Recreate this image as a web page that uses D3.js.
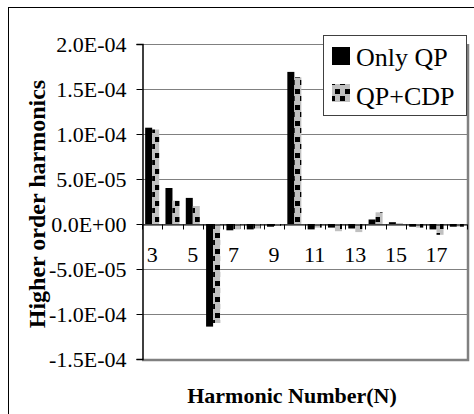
<!DOCTYPE html>
<html>
<head>
<meta charset="utf-8">
<script src="https://cdn.jsdelivr.net/npm/d3@7"></script>
<style>
  body { margin: 0; background: #fff; }
  svg { display: block; }
  svg text { font-family: "Liberation Serif", "Times New Roman", Tinos, Times, serif; }
</style>
</head>
<body>
<div id="chart"></div>
<script>
const harmonics = [3, 4, 5, 6, 7, 8, 9, 10, 11, 12, 13, 14, 15, 16, 17, 18]
const tickLabels = [3, 5, 7, 9, 11, 13, 15, 17]
const seriesNames = ['Only QP', 'QP+CDP']
const onlyQP = [1.07e-4, 4.0e-5, 2.9e-5, -1.14e-4, -7e-6, -6e-6, -3e-6, 1.69e-4, -6e-6, -4e-6, -5e-6, 5e-6, 2e-6, -3e-6, -6e-6, -3e-6]
const qpCDP = [1.05e-4, 2.6e-5, 2.0e-5, -1.10e-4, -6e-6, -5e-6, -2e-6, 1.63e-4, -4e-6, -8e-6, -9e-6, 1.3e-5, 1e-6, -4e-6, -1.2e-5, -3e-6]
const yTicks = [-1.5e-4, -1.0e-4, -5.0e-5, 0, 5.0e-5, 1.0e-4, 1.5e-4, 2.0e-4]

const width = 474
const height = 414
const plot = {left: 142, right: 467, top: 44, bottom: 359}

const fmtE = v => {
    if (v === 0) return '0.0E+00'
    const [m, e] = v.toExponential(1).split('e')
    const n = +e
    return m + 'E' + (n < 0 ? '-' : '+') + String(Math.abs(n)).padStart(2, '0')
}

const svg = d3.select('#chart')
              .append('svg')
              .attr('width', width)
              .attr('height', height)

const defs = svg.append('defs')
const pat = defs.append('pattern')
                .attr('id', 'cdp')
                .attr('patternUnits', 'userSpaceOnUse')
                .attr('width', 10)
                .attr('height', 16)
pat.append('rect').attr('width', 10).attr('height', 16).attr('fill', '#c0c0c0')
pat.append('rect').attr('x', 0).attr('y', 0).attr('width', 5).attr('height', 5).attr('fill', '#000')
pat.append('rect').attr('x', 5).attr('y', 9).attr('width', 5).attr('height', 5).attr('fill', '#000')

// chart area border (only top/left visible)
svg.append('rect')
   .attr('x', 8.5).attr('y', 7.5)
   .attr('width', width).attr('height', height)
   .attr('fill', 'none').attr('stroke', '#000')

let x = d3.scaleBand()
          .domain(harmonics)
          .range([plot.left, plot.right])
          .paddingInner(0.31)
          .paddingOuter(0.155)

let xs = d3.scaleBand()
           .domain(seriesNames)
           .range([0, x.bandwidth()])

let y = d3.scaleLinear()
          .domain([-1.5e-4, 2.0e-4])
          .range([plot.bottom, plot.top])

// gridlines
svg.append('g')
   .selectAll('line')
   .data(yTicks)
   .enter()
   .append('line')
   .attr('x1', plot.left).attr('x2', plot.right)
   .attr('y1', d => Math.round(y(d)) + 0.5).attr('y2', d => Math.round(y(d)) + 0.5)
   .attr('stroke', '#808080')

// plot area border right / bottom
svg.append('path')
   .attr('d', `M${plot.left},${plot.bottom + 1}H${plot.right + 1}V${plot.top}`)
   .attr('fill', 'none')
   .attr('stroke', '#808080')
   .attr('stroke-width', 2.5)

// bars
const series = [
    {name: 'Only QP', values: onlyQP, fill: '#000'},
    {name: 'QP+CDP', values: qpCDP, fill: 'url(#cdp)'}
]

series.forEach(s => {
    svg.append('g')
       .selectAll('rect')
       .data(s.values)
       .enter()
       .append('rect')
       .attr('x', (_, i) => x(harmonics[i]) + xs(s.name))
       .attr('width', xs.bandwidth())
       .attr('y', d => y(Math.max(0, d)))
       .attr('height', d => Math.abs(y(d) - y(0)))
       .attr('fill', s.fill)
})

// category axis at zero
const xAxis = d3.axisBottom(x)
                .tickValues(tickLabels)
                .tickSize(0)
                .tickPadding(22)
let gx = svg.append('g')
            .attr('transform', `translate(0, ${Math.round(y(0)) + 0.5})`)
            .call(xAxis)
gx.attr('font-family', null)
gx.select('.domain').attr('stroke', '#000')
gx.selectAll('text')
  .style('font-size', '22px')
  .attr('fill', '#000')
// minor tick marks at category boundaries
gx.selectAll('.cat-tick')
  .data(harmonics.concat([null]))
  .enter()
  .append('line')
  .attr('x1', (d, i) => Math.round(plot.left + i * x.step()) + 0.5)
  .attr('x2', (d, i) => Math.round(plot.left + i * x.step()) + 0.5)
  .attr('y1', 0).attr('y2', 5)
  .attr('stroke', '#000')

// value axis
const yAxis = d3.axisLeft(y)
                .tickValues(yTicks)
                .tickFormat(fmtE)
                .tickSizeOuter(0)
                .tickSize(6)
                .tickPadding(10)
let gy = svg.append('g')
            .attr('transform', `translate(${plot.left + 0.5}, 0)`)
            .call(yAxis)
gy.attr('font-family', null)
gy.select('.domain').attr('stroke', '#000').attr('stroke-width', 1.5)
gy.selectAll('.tick line').attr('stroke', '#000')
gy.selectAll('text')
  .style('font-size', '22px')
  .attr('fill', '#000')

// legend
let lg = svg.append('g')
lg.append('rect')
  .attr('x', 323.5).attr('y', 35.5)
  .attr('width', 143).attr('height', 80)
  .attr('fill', '#fff').attr('stroke', '#404040')

seriesNames.forEach((name, i) => {
    lg.append('rect')
      .attr('x', 332).attr('y', 47 + i * 37)
      .attr('width', 18).attr('height', 18)
      .attr('fill', series[i].fill)
    lg.append('text')
      .attr('x', 356).attr('y', 66 + i * 39)
      .text(name)
      .style('font-size', '26px')
})

// axis titles
svg.append('text')
   .attr('transform', `translate(45, 204) rotate(-90)`)
   .attr('text-anchor', 'middle')
   .text('Higher order harmonics')
   .style('font-weight', 'bold')
   .style('font-size', '24px')

svg.append('text')
   .attr('x', 292)
   .attr('y', 403)
   .attr('text-anchor', 'middle')
   .text('Harmonic Number(N)')
   .style('font-weight', 'bold')
   .style('font-size', '22px')
</script>
</body>
</html>
